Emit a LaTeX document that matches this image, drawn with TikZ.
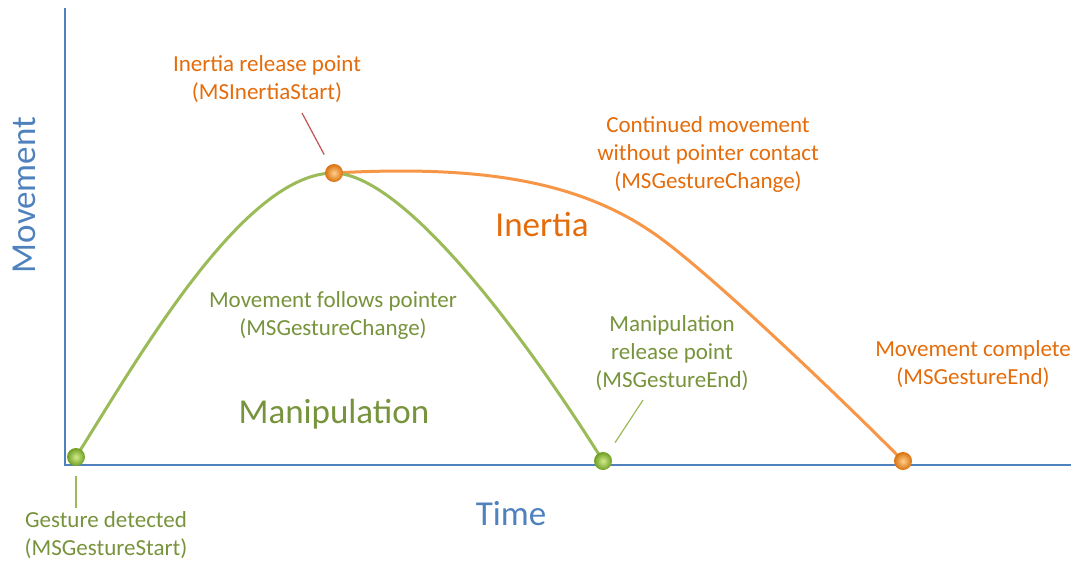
\documentclass[tikz,border=0pt]{standalone}
\usepackage{fontspec}
\setmainfont{Carlito}
\usepackage{xcolor}
\usepackage{tikz}
\usetikzlibrary{calc}
\definecolor{axisc}{HTML}{4F81BD}
\definecolor{manic}{HTML}{9BBB59}
\definecolor{manitxt}{HTML}{77933C}
\definecolor{inerc}{HTML}{F79646}
\definecolor{inertxt}{HTML}{E46C0A}
\definecolor{leadred}{HTML}{C0504D}
\definecolor{gbeadin}{HTML}{D2EC8C}
\definecolor{gbeadout}{HTML}{6E9E22}
\definecolor{obeadin}{HTML}{FFD08A}
\definecolor{obeadout}{HTML}{D9700E}
\tikzset{
  lbl/.style={font=\fontsize{23}{28}\selectfont,align=center,anchor=base,inner sep=0pt},
  big/.style={font=\fontsize{35}{42}\selectfont,anchor=base,inner sep=0pt},
  bead/.style={circle,minimum size=18pt,inner sep=0pt,shading=radial},
  gbead/.style={bead,inner color=gbeadin,outer color=gbeadout},
  obead/.style={bead,inner color=obeadin,outer color=obeadout},
  gcurve/.style={manic,line width=3pt},
  ocurve/.style={inerc,line width=3pt},
  leader/.style={line width=1.2pt}
}
\begin{document}
\begin{tikzpicture}[x=1pt,y=-1pt]
\useasboundingbox (0,0) rectangle (1083,560);
\coordinate (gs) at (76,457);
\coordinate (pk) at (334,173);
\coordinate (ge) at (603,461);
\coordinate (oe) at (903,461);
\coordinate (ymax) at (65,8);
\coordinate (orig) at (65,465);
\coordinate (xmax) at (1071,465);
\draw[axisc,line width=1.6pt] (ymax) -- (orig) -- (xmax);
\draw[ocurve] (pk) .. controls (480,165) and (583,180) .. (663,240) .. controls (727,288) and (866,423) .. (oe);
\draw[gcurve] (gs) .. controls (140,355) and (244,173) .. (pk) .. controls (410,175) and (540,360) .. (ge);
\node[gbead] (gsb) at (gs) {};
\node[obead] (pkb) at (pk) {};
\node[gbead] (geb) at (ge) {};
\node[obead] (oeb) at (oe) {};
\node[lbl,manitxt] (gdet) at (106,555) {Gesture detected\\(MSGestureStart)};
\node[lbl,inertxt] (irel) at (267,99) {Inertia release point\\(MSInertiaStart)};
\node[lbl,inertxt] (cont) at (708,188) {Continued movement\\without pointer contact\\(MSGestureChange)};
\node[lbl,manitxt] (fol) at (333,335) {Movement follows pointer\\(MSGestureChange)};
\node[lbl,manitxt] (mrel) at (672,387) {Manipulation\\release point\\(MSGestureEnd)};
\node[lbl,inertxt] (mcomp) at (973,384) {Movement complete\\(MSGestureEnd)};
\node[big,manitxt] (mani) at (334,423) {Manipulation};
\node[big,inertxt] (iner) at (542,236) {Inertia};
\node[big,axisc] (time) at (511,525) {Time};
\node[big,axisc,rotate=90] (mov) at (35,195) {Movement};
\coordinate (irtip) at (302,113);
\coordinate (mrtip) at (643,400);
\draw[leader,manic,shorten <=19pt,shorten >=3pt] (gs) -- (gs |- gdet.north);
\draw[leader,leadred,shorten >=21pt] (irtip) -- (pk);
\draw[leader,manic,shorten >=22pt] (mrtip) -- (ge);
\end{tikzpicture}
\end{document}
